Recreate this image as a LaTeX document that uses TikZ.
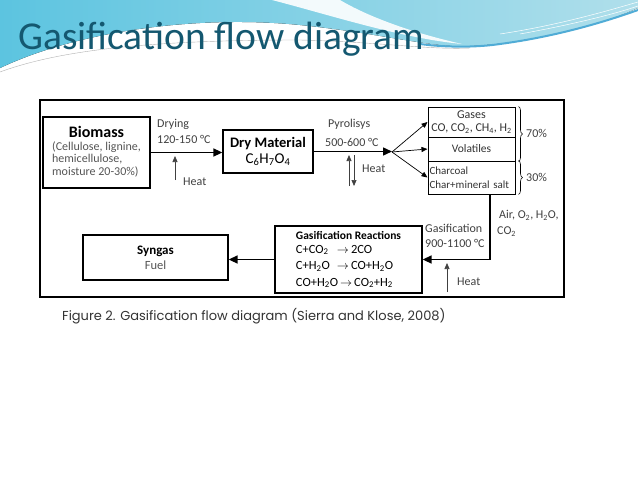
\documentclass[tikz,border=0pt]{standalone}
\usepackage{fontspec}
\setmainfont{Carlito}
\newfontfamily\captionfont{Poppins}
\usetikzlibrary{arrows.meta, positioning, decorations.pathreplacing, calc}
\definecolor{TitleTeal}{RGB}{20, 88, 112}
\definecolor{SlideCyan}{RGB}{92, 196, 224}
\definecolor{SlideBlue}{RGB}{126, 186, 214}
\definecolor{SlideLight}{RGB}{176, 223, 235}
\definecolor{SlideDeep}{RGB}{80, 172, 214}
\definecolor{TextGray}{RGB}{85, 85, 85}
\newcommand{\sbs}[1]{\textsubscript{#1}}

\begin{document}
\begin{tikzpicture}[
  x=1pt, y=-1pt,
  every node/.style={font=\fontsize{11}{12}\selectfont},
  box/.style={draw, line width=1.3pt, align=center, inner sep=2pt},
  prod/.style={draw, line width=1pt, minimum width=87pt, inner sep=1pt, text=black!80,
               font=\fontsize{11.5}{13}\selectfont},
  lbl/.style={anchor=west, inner sep=0pt, text=black!75, font=\fontsize{12}{13}\selectfont},
  arr/.style={-{Triangle[length=9pt,width=8pt]}, line width=1.5pt},
  splitarr/.style={-{Triangle[length=6pt,width=5pt]}, line width=0.7pt},
  heatarr/.style={-{Triangle[length=6pt,width=5pt]}, line width=0.7pt, draw=black!75},
  pctbrace/.style={decorate, decoration={brace, amplitude=4pt}, line width=0.6pt}
]
  \useasboundingbox (0,0) rectangle (638,479);
  \fill[white] (0,0) rectangle (638,479);

  %% Slide header
  \fill[left color=SlideCyan, middle color=SlideBlue, right color=SlideLight]
    (0,0) -- (638,0) -- (638,8)
    .. controls (600,25) and (540,42) .. (470,46)
    .. controls (430,48) and (380,33) .. (300,25)
    .. controls (200,15) and (80,30) .. (0,68) -- cycle;
  \fill[white, opacity=0.9] (272,0) .. controls (330,15) and (400,38) .. (462,44)
    .. controls (400,30) and (360,12) .. (340,0) -- cycle;
  \draw[SlideDeep, line width=2pt] (420,44) .. controls (450,48) and (480,47) .. (500,44)
    .. controls (560,36) and (610,20) .. (638,10);
  \draw[white, line width=0.5pt] (500,34) .. controls (560,25) and (610,10) .. (638,2);
  \draw[white, line width=0.5pt] (520,34) .. controls (570,25) and (615,14) .. (638,6);
  \draw[black!30, line width=0.4pt] (0,72) .. controls (60,50) and (150,40) .. (300,40)
    .. controls (380,42) and (430,50) .. (470,48);

  \node[anchor=base west, inner sep=0pt, text=TitleTeal,
        font=\fontsize{39.5}{42}\selectfont] (title) at (18,49) {Gasification flow diagram};

  %% Figure frame
  \draw[line width=1.5pt] (40,100) rectangle (564,297);

  %% Nodes
  \node[box, minimum width=107pt, minimum height=71pt,
        font=\fontsize{12}{12}\selectfont] (biomass) at (96.5,152.5)
    {\begin{tabular}{@{}l@{}}
       \multicolumn{1}{c}{\fontsize{16}{16}\selectfont\bfseries Biomass}\\[1pt]
       {\color{TextGray}(Cellulose, lignine,}\\
       {\color{TextGray}hemicellulose,}\\
       {\color{TextGray}moisture 20-30\%)}
     \end{tabular}};
  \node[box, minimum width=90pt, minimum height=43pt] (dry) at (268,151.5)
    {{\fontsize{14.5}{15}\selectfont\bfseries Dry Material}\\[3pt]
     {\fontsize{15}{16}\selectfont C\sbs{6}H\sbs{7}O\sbs{4}}};
  \node[prod, minimum height=30pt, align=center, font=\fontsize{12}{13}\selectfont]
    (gases) at (471.5,122) {Gases\\CO, CO\sbs{2}, CH\sbs{4}, H\sbs{2}};
  \node[prod, minimum height=24pt] (vol) at (471.5,149) {Volatiles};
  \node[prod, minimum height=33pt, align=left, text width=84pt, inner xsep=1.5pt,
        font=\fontsize{11}{14}\selectfont] (charcoal) at (471.5,177.5)
    {Charcoal\\Char+mineral salt};
  \node[box, minimum width=147pt, minimum height=67pt,
        font=\fontsize{12.5}{16.5}\selectfont] (gasif) at (348.5,259.5)
    {\begin{tabular}{@{}p{41pt}@{}l@{}}
       \multicolumn{2}{@{}c@{}}{\fontsize{11.5}{12}\selectfont\bfseries Gasification Reactions}\\[-3pt]
       C+CO\sbs{2} & $\rightarrow$\,2CO\\
       C+H\sbs{2}O & $\rightarrow$\,CO+H\sbs{2}O\\
       \multicolumn{2}{@{}l@{}}{CO+H\sbs{2}O\,$\rightarrow$\,CO\sbs{2}+H\sbs{2}}
     \end{tabular}};
  \node[box, minimum width=145pt, minimum height=45pt] (syngas) at (155.5,257.5)
    {{\fontsize{13}{15}\selectfont\bfseries Syngas}\\[3pt]
     {\fontsize{12.5}{14}\selectfont\color{TextGray}Fuel}};

  %% Labels
  \node[lbl] (drying)  at (157,124) {Drying};
  \node[lbl] (dryT)    at (157,139) {120-150 °C};
  \node[lbl] (heatA)   at (183,182) {Heat};
  \node[lbl] (pyro)    at (328,124) {Pyrolisys};
  \node[lbl] (pyroT)   at (325,142) {500-600 °C};
  \node[lbl] (heatB)   at (362,169) {Heat};
  \node[lbl] (gasifL)  at (425,228) {Gasification};
  \node[lbl] (gasifT)  at (425,243) {900-1100 °C};
  \node[lbl] (agent)   at (499,215) {Air, O\sbs{2}, H\sbs{2}O,};
  \node[lbl] (agentB)  at (497,232) {CO\sbs{2}};
  \node[lbl] (heatC)   at (457,282) {Heat};
  \node[lbl] (p70)     at (526,133) {70\%};
  \node[lbl] (p30)     at (526,177) {30\%};

  \node[anchor=west, inner sep=0pt, text=black!80,
        font=\captionfont\fontsize{13}{15}\selectfont] (caption) at (62,316)
    {Figure 2. Gasification flow diagram (Sierra and Klose, 2008)};

  %% Arrows
  \coordinate (split) at (392,152);
  \coordinate (hA0) at (175,180);
  \coordinate (hA1) at (175,156);
  \coordinate (hB0) at (349,186);
  \coordinate (hB1) at (349,155);
  \coordinate (hB2) at (354,155);
  \coordinate (hB3) at (354,186);
  \coordinate (hC0) at (447,292);
  \coordinate (hC1) at (447,263);

  \draw[arr] (biomass.east) -- (biomass.east -| dry.west);
  \draw[arr] (dry.east) -- (dry.east -| split);
  \draw[splitarr] (split) -- (gases.west);
  \draw[splitarr] (split) -- (vol.west);
  \draw[splitarr] (split) -- (charcoal.west);
  \draw[arr] ([xshift=18.5pt]charcoal.south) |- (gasif.east);
  \draw[arr] (gasif.west) -- (gasif.west -| syngas.east);
  \draw[heatarr] (hA0) -- (hA1);
  \draw[heatarr] (hB0) -- (hB1);
  \draw[heatarr] (hB2) -- (hB3);
  \draw[heatarr] (hC0) -- (hC1);

  %% Braces
  \draw[pctbrace] ([xshift=3pt]gases.north east) -- ([xshift=3pt]vol.south east);
  \draw[pctbrace] ([xshift=3pt]charcoal.north east) -- ([xshift=3pt]charcoal.south east);
\end{tikzpicture}
\end{document}
